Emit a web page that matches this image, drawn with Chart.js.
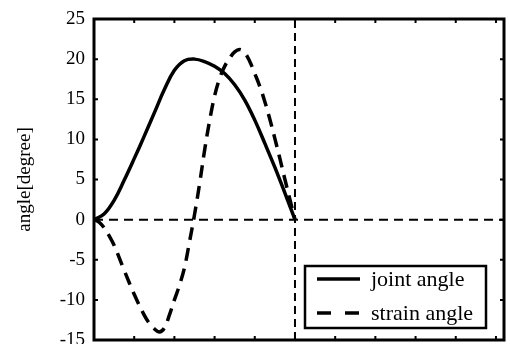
<!DOCTYPE html>
<html>
<head>
<meta charset="utf-8">
<script src="https://cdn.jsdelivr.net/npm/chart.js@4.4.0/dist/chart.umd.min.js"></script>
<style>
html, body { margin: 0; padding: 0; background: #fff; }
</style>
</head>
<body>
<canvas id="chart" width="510" height="344"></canvas>
<script>
// Data
const jointX = [0, 0.25, 0.5, 0.75, 1.0, 1.25, 1.5, 1.75, 2.0, 2.25, 2.5, 2.75, 3.0, 3.25, 3.5, 3.75, 4.0, 4.25, 4.5, 4.75, 5.0];
const jointY = [0, 0.7, 2.4, 4.9, 7.6, 10.4, 13.3, 16.2, 18.6, 19.8, 20.0, 19.7, 19.1, 18.2, 16.8, 14.9, 12.4, 9.5, 6.5, 3.3, 0];

const strainX = [0, 0.125, 0.25, 0.375, 0.5, 0.75, 1.0, 1.25, 1.375, 1.5, 1.625, 1.75, 1.875, 2.0, 2.125, 2.25, 2.375, 2.5, 2.625, 2.75, 2.875, 3.0, 3.125, 3.25, 3.375, 3.5, 3.625, 3.75, 3.875, 4.0, 4.125, 4.25, 4.375, 4.5, 4.625, 4.75, 4.875, 5.0];
const strainY = [0, -0.3, -1.0, -2.0, -3.2, -6.3, -9.3, -11.9, -12.9, -13.6, -14.0, -13.5, -11.9, -10.0, -8.2, -6.0, -2.8, 0.6, 4.4, 8.6, 12.3, 15.4, 17.6, 19.1, 20.1, 20.9, 21.2, 20.8, 19.7, 18.2, 16.6, 14.7, 12.5, 10.1, 7.6, 5.0, 2.5, 0];

const seriesLabels = ['joint angle', 'strain angle'];
const yTicks = [-15, -10, -5, 0, 5, 10, 15, 20, 25];
const xTicks = [1, 2, 3, 4, 5, 6, 7, 8, 9, 10];
const xRange = [0, 10.2];
const yRange = [-15, 25];
const markerX = 5;

const serif = "'Liberation Serif', 'Times New Roman', serif";

function toPoints(xs, ys) {
    return xs.map((x, i) => ({ x: x, y: ys[i] }));
}

// Frame + inward tick marks
const framePlugin = {
    id: 'frame',
    afterDatasetsDraw(chart) {
        const { ctx, chartArea: a, scales: { x, y } } = chart;
        ctx.save();
        ctx.strokeStyle = '#000';
        ctx.lineWidth = 2;
        ctx.beginPath();
        yTicks.forEach(v => {
            const py = y.getPixelForValue(v);
            ctx.moveTo(a.left, py); ctx.lineTo(a.left + 4, py);
            ctx.moveTo(a.right, py); ctx.lineTo(a.right - 4, py);
        });
        xTicks.forEach(v => {
            const px = x.getPixelForValue(v);
            ctx.moveTo(px, a.top); ctx.lineTo(px, a.top + 4);
            ctx.moveTo(px, a.bottom); ctx.lineTo(px, a.bottom - 4);
        });
        ctx.stroke();
        ctx.lineWidth = 3;
        ctx.strokeRect(a.left, a.top, a.right - a.left, a.bottom - a.top);
        ctx.restore();
    }
};

// Boxed legend inside the plot
const boxLegendPlugin = {
    id: 'boxLegend',
    afterDraw(chart) {
        const ctx = chart.ctx;
        const box = { left: 305, top: 266, right: 486, bottom: 328 };
        ctx.save();
        ctx.fillStyle = '#fff';
        ctx.fillRect(box.left, box.top, box.right - box.left, box.bottom - box.top);
        ctx.strokeStyle = '#000';
        ctx.lineWidth = 2.5;
        ctx.strokeRect(box.left, box.top, box.right - box.left, box.bottom - box.top);

        const rows = [279, 313];
        ctx.font = '22px ' + serif;
        ctx.textBaseline = 'middle';
        ctx.fillStyle = '#000';
        [0, 1].forEach(i => {
            const ds = chart.data.datasets[i];
            ctx.lineWidth = ds.borderWidth;
            ctx.setLineDash(i === 0 ? [] : [14, 14]);
            ctx.beginPath();
            ctx.moveTo(317, rows[i]);
            ctx.lineTo(360, rows[i]);
            ctx.stroke();
            ctx.fillText(ds.label, 371, rows[i] + 1);
        });
        ctx.restore();
    }
};

new Chart(document.getElementById('chart'), {
    type: 'line',
    data: {
        datasets: [
            {
                label: seriesLabels[0],
                data: toPoints(jointX, jointY),
                borderColor: '#000',
                borderWidth: 3.5,
                pointRadius: 0,
                tension: 0.4
            },
            {
                label: seriesLabels[1],
                data: toPoints(strainX, strainY),
                borderColor: '#000',
                borderWidth: 3.5,
                borderDash: [13, 8],
                pointRadius: 0,
                tension: 0.4
            },
            {
                label: 'zero',
                data: toPoints(xRange, [0, 0]),
                borderColor: '#000',
                borderWidth: 2,
                borderDash: [9, 6],
                pointRadius: 0
            },
            {
                label: 'marker',
                data: toPoints([markerX, markerX], yRange),
                borderColor: '#000',
                borderWidth: 2,
                borderDash: [8, 5],
                pointRadius: 0
            }
        ]
    },
    options: {
        responsive: false,
        animation: false,
        devicePixelRatio: 1,
        layout: {
            padding: { left: 0, top: 19, right: 6, bottom: 4 }
        },
        plugins: {
            legend: { display: false },
            tooltip: { enabled: false }
        },
        scales: {
            x: {
                type: 'linear',
                display: false,
                min: xRange[0],
                max: xRange[1]
            },
            y: {
                type: 'linear',
                min: yRange[0],
                max: yRange[1],
                grid: { display: false, drawTicks: false },
                border: { display: false },
                ticks: {
                    stepSize: 5,
                    padding: 9,
                    color: '#000',
                    font: { family: serif, size: 19 }
                },
                title: {
                    display: true,
                    text: 'angle[degree]',
                    color: '#000',
                    font: { family: serif, size: 19 },
                    padding: { top: 14, bottom: 0 }
                },
                afterFit(scale) {
                    scale.width = 94;
                    scale.paddingTop = 0;
                    scale.paddingBottom = 0;
                }
            }
        }
    },
    plugins: [framePlugin, boxLegendPlugin]
});
</script>
</body>
</html>
